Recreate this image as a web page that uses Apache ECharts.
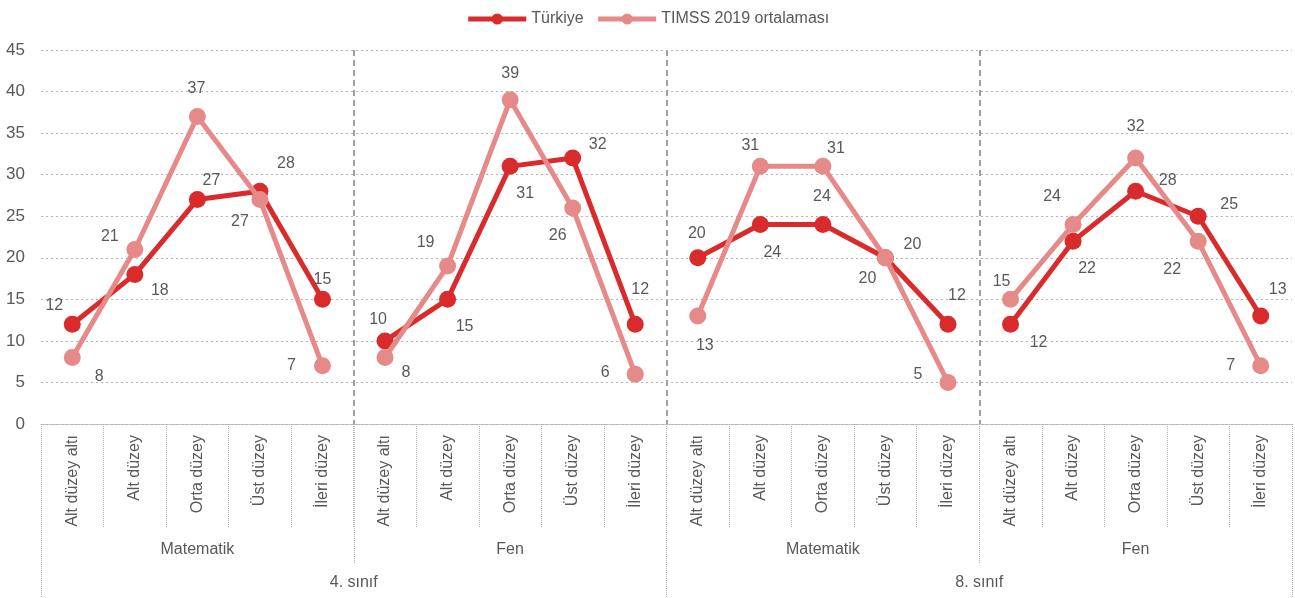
<!DOCTYPE html>
<html>
<head>
<meta charset="utf-8">
<script src="https://cdn.jsdelivr.net/npm/echarts@6/dist/echarts.min.js"></script>
<style>
  html, body { margin: 0; padding: 0; background: #ffffff; }
  #chart { width: 1295px; height: 598px; }
</style>
</head>
<body>
<div id="chart"></div>
<script>
// Proficiency levels (each subject/grade block repeats them)
const levels = ['Alt düzey altı', 'Alt düzey', 'Orta düzey', 'Üst düzey', 'İleri düzey'];
const subjects = ['Matematik', 'Fen', 'Matematik', 'Fen'];
const grades = ['4. sınıf', '8. sınıf'];

// Percent of students per level, one row per block (4. sınıf Mat, 4. sınıf Fen, 8. sınıf Mat, 8. sınıf Fen)
const turkiye = [
  [12, 18, 27, 28, 15],
  [10, 15, 31, 32, 12],
  [20, 24, 24, 20, 12],
  [12, 22, 28, 25, 13]
];
const timss = [
  [8, 21, 37, 27, 7],
  [8, 19, 39, 26, 6],
  [13, 31, 31, 20, 5],
  [15, 24, 32, 22, 7]
];

const yMin = 0, yMax = 45, yStep = 5;

// Value-label offsets (px) from each point, so labels stay clear of the lines
const turkiyeLabelOffsets = [
  [[-18, -19], [25, 16], [14, -19], [26, -28], [0, -20]],
  [[-7, -21], [17, 27], [15, 27], [25, -13], [5, -35]],
  [[-1, -24], [12, 28], [-1, -28], [-18, 21], [9, -29]],
  [[28, 18], [14, 27], [32, -11], [31, -12], [17, -26]]
];
const timssLabelOffsets = [
  [[27, 19], [-25, -13], [-1, -28], [-20, 22], [-31, 0]],
  [[21, 15], [-22, -23], [0, -26], [-15, 28], [-30, -2]],
  [[7, 30], [-10, -21], [13, -18], [27, -13], [-30, -8]],
  [[-9, -18], [-21, -28], [0, -31], [-26, 28], [-30, 0]]
];

const FONT = "'Liberation Sans', Arial, sans-serif";
const FS = 16;
const TEXT = '#595959';
const GRID = '#b4b4b4';
const RED = '#d92b2b';
const PINK = '#e68989';

const categories = [];
subjects.forEach(() => levels.forEach(l => categories.push(l)));

// One line series per block so the lines break between blocks
function blockSeries(name, rows, offsets, color, z) {
  return rows.map((row, b) => {
    const data = categories.map(() => null);
    row.forEach((v, i) => {
      data[b * levels.length + i] = {
        value: v,
        label: { offset: offsets[b][i] }
      };
    });
    return {
      name: name,
      type: 'line',
      data: data,
      connectNulls: false,
      symbol: 'circle',
      symbolSize: 17,
      z: z,
      color: color,
      lineStyle: { color: color, width: 5 },
      itemStyle: { color: color },
      label: {
        show: true,
        position: 'inside',
        color: TEXT,
        fontSize: FS,
        fontFamily: FONT
      },
      emphasis: { disabled: true },
      animation: false
    };
  });
}

const chart = echarts.init(document.getElementById('chart'), null, { renderer: 'canvas' });

chart.setOption({
  animation: false,
  textStyle: { fontFamily: FONT, color: TEXT },
  legend: {
    top: 6,
    left: 'center',
    itemWidth: 58,
    itemHeight: 14,
    itemGap: 12,
    lineStyle: { width: 5 },
    textStyle: { fontSize: FS, color: TEXT, fontFamily: FONT },
    data: ['Türkiye', 'TIMSS 2019 ortalaması']
  },
  grid: { left: 41, right: 3, top: 50, bottom: 174, containLabel: false },
  xAxis: [
    {
      type: 'category',
      data: categories,
      position: 'bottom',
      boundaryGap: true,
      axisLine: { show: true, lineStyle: { color: GRID, type: 'dotted', width: 1 } },
      axisTick: { show: true, interval: 0, length: 104, lineStyle: { color: GRID, type: 'dotted' } },
      axisLabel: { interval: 0, rotate: 90, margin: 11, fontSize: FS, color: TEXT, fontFamily: FONT },
      splitLine: { show: false }
    },
    {
      type: 'category',
      data: subjects,
      position: 'bottom',
      boundaryGap: true,
      axisLine: { show: false },
      axisTick: { show: true, interval: 0, length: 139, lineStyle: { color: GRID, type: 'dotted' } },
      axisLabel: { interval: 0, margin: 118, fontSize: FS, color: TEXT, fontFamily: FONT },
      splitLine: {
        show: true,
        interval: 0,
        lineStyle: { color: ['rgba(0,0,0,0)', '#a0a0a0', '#a0a0a0', '#a0a0a0', 'rgba(0,0,0,0)'], type: [6, 4], width: 2 }
      }
    },
    {
      type: 'category',
      data: grades,
      position: 'bottom',
      boundaryGap: true,
      axisLine: { show: false },
      axisTick: { show: true, interval: 0, length: 175, lineStyle: { color: GRID, type: 'dotted' } },
      axisLabel: { interval: 0, margin: 151, fontSize: FS, color: TEXT, fontFamily: FONT },
      splitLine: { show: false }
    }
  ],
  yAxis: {
    type: 'value',
    min: yMin,
    max: yMax,
    interval: yStep,
    axisLine: { show: false },
    axisTick: { show: false },
    axisLabel: { margin: 16, fontSize: FS + 1, color: TEXT, fontFamily: FONT },
    splitLine: { show: true, lineStyle: { color: GRID, type: [2, 3], width: 1 } }
  },
  series: [].concat(
    blockSeries('Türkiye', turkiye, turkiyeLabelOffsets, RED, 2),
    blockSeries('TIMSS 2019 ortalaması', timss, timssLabelOffsets, PINK, 3)
  )
});
</script>
</body>
</html>
